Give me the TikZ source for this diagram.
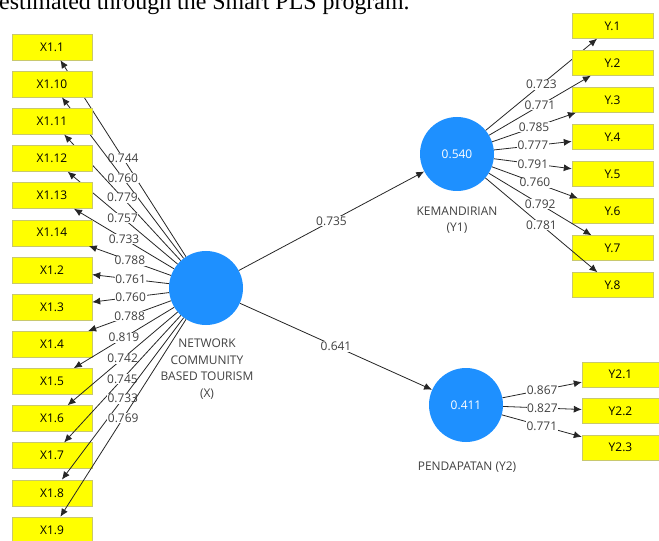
\documentclass[tikz,border=0pt]{standalone}
\usepackage{fontspec}
\setmainfont{Liberation Serif}
\newfontfamily\plsfont{Open Sans}
\usetikzlibrary{arrows.meta}
\definecolor{pblue}{RGB}{30,144,255}
\definecolor{pyellow}{RGB}{255,255,0}
\definecolor{pedge}{RGB}{200,200,110}
\definecolor{ptext}{RGB}{64,64,64}
\tikzset{
  plsfig/.style={x=1bp,y=-1bp,font=\plsfont\fontsize{12}{16.5}\selectfont},
  indbox/.style={draw=pedge,fill=pyellow,minimum width=80bp,minimum height=26bp,inner sep=0pt},
  latent/.style={circle,fill=pblue,text=white,minimum size=74bp,inner sep=0pt},
  load/.style={-{Latex[length=8bp,width=7bp]},draw=black!85,line width=0.8bp},
  coef/.style={fill=white,text=ptext,inner sep=0.6bp},
  latcap/.style={text=ptext,align=center}
}

\begin{document}
\begin{tikzpicture}[plsfig]
  \clip (0,0) rectangle (659,541);
  \node[anchor=base west,inner sep=0pt,font=\fontsize{24}{26}\selectfont] (title) at (-1,9.5) {estimated through the Smart PLS program.};
  \node[latent] (nx) at (206,288) {};
  \node[latcap] (nxcap) at (207,369) {NETWORK\\COMMUNITY\\BASED TOURISM\\(X)};
  \node[latent] (ny1) at (457,154) {0.540};
  \node[latcap] (ny1cap) at (457,220) {KEMANDIRIAN\\(Y1)};
  \node[latent] (ny2) at (466,405) {0.411};
  \node[latcap] (ny2cap) at (467,467) {PENDAPATAN (Y2)};
  \draw[load] (nx) -- node[coef] {0.735} (ny1);
  \draw[load] (nx) -- node[coef] {0.641} (ny2);
  \foreach \nm/\txt/\ld [count=\i from 0] in {x11/X1.1/0.744, x110/X1.10/0.760,
      x111/X1.11/0.779, x112/X1.12/0.757, x113/X1.13/0.733, x114/X1.14/0.788,
      x12/X1.2/0.761, x13/X1.3/0.760, x14/X1.4/0.788, x15/X1.5/0.819,
      x16/X1.6/0.742, x17/X1.7/0.745, x18/X1.8/0.733, x19/X1.9/0.769}{
    \node[indbox] (\nm) at (52,{47+37.15*\i}) {\txt};
    \draw[load] (nx) -- node[coef] {\ld} (\nm);
  }
  \foreach \nm/\txt/\ld [count=\i from 0] in {y1/Y.1/0.723, y2/Y.2/0.771,
      y3/Y.3/0.785, y4/Y.4/0.777, y5/Y.5/0.791, y6/Y.6/0.760,
      y7/Y.7/0.792, y8/Y.8/0.781}{
    \node[indbox,minimum width=81bp,minimum height=25bp] (\nm) at (612.5,{26+37*\i}) {\txt};
    \draw[load] (ny1) -- node[coef] {\ld} (\nm);
  }
  \foreach \nm/\txt/\ld [count=\i from 0] in {y21/Y2.1/0.867, y22/Y2.2/0.827, y23/Y2.3/0.771}{
    \node[indbox,minimum width=77bp,minimum height=25bp] (\nm) at (620.5,{374.5+36.5*\i}) {\txt};
    \draw[load] (ny2) -- node[coef] {\ld} (\nm);
  }
\end{tikzpicture}
\end{document}
